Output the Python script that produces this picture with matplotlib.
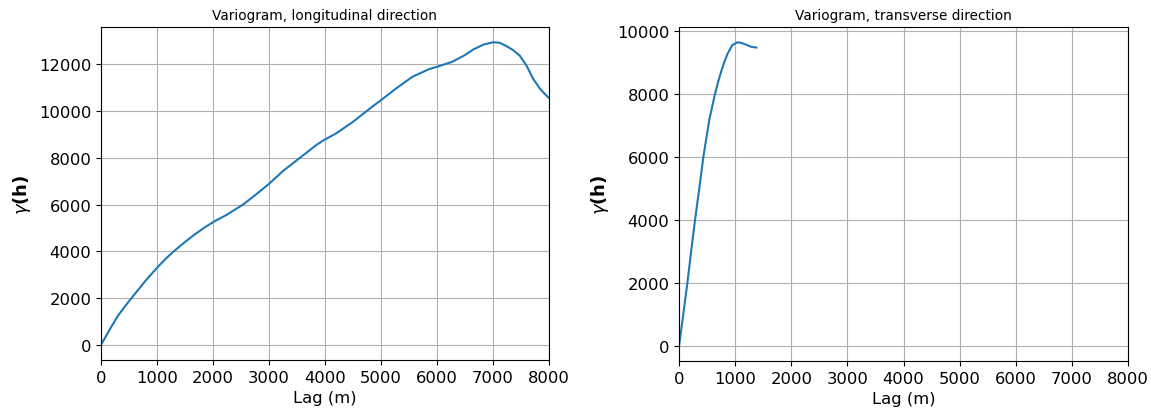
import matplotlib
matplotlib.use("Agg")
import matplotlib.pyplot as plt
import numpy as np

# longitudinal variogram
lag_long = [0, 150, 300, 450, 600, 800, 1000, 1150, 1300, 1500, 1670, 1850, 2020,
            2240, 2540, 2770, 3000, 3260, 3550, 3850, 4000, 4200, 4500, 4800,
            5000, 5270, 5560, 5860, 6000, 6270, 6350, 6500, 6650, 6830, 7000,
            7120, 7240, 7360, 7480, 7600, 7720, 7840, 7920, 8000]
gam_long = [0, 640, 1240, 1720, 2170, 2760, 3300, 3675, 4005, 4405, 4720, 5025,
            5280, 5560, 6010, 6440, 6890, 7460, 8000, 8560, 8790, 9050, 9545,
            10110, 10470, 10970, 11470, 11800, 11900, 12110, 12210, 12400, 12640,
            12850, 12950, 12930, 12790, 12620, 12380, 11960, 11390, 10970,
            10760, 10570]

# transverse variogram
lag_tran = [0, 75, 148, 215, 284, 360, 432, 538, 639, 700, 757, 810, 864, 947,
            1041, 1100, 1172, 1290, 1379]
gam_tran = [0, 1000, 2000, 3000, 4000, 5000, 6000, 7180, 8000, 8420, 8760, 9040,
            9290, 9560, 9650, 9635, 9590, 9505, 9484]

fig = plt.figure(figsize=(11.51, 4.14), dpi=100)
ax1 = fig.add_axes([0.0878, 0.128, 0.389, 0.804])
ax2 = fig.add_axes([0.590, 0.126, 0.390, 0.806])

for ax, x, y, title in [(ax1, lag_long, gam_long, 'Variogram, longitudinal direction'),
                        (ax2, lag_tran, gam_tran, 'Variogram, transverse direction')]:
    ax.plot(x, y, '-', color='#1f77b4', lw=1.5)
    ax.set_xlim(0, 8000)
    ax.set_xticks(np.arange(0, 8001, 1000))
    ax.grid(True, color='#b0b0b0', lw=0.8)
    ax.set_title(title, fontsize=9.8)
    ax.set_xlabel('Lag (m)', fontsize=11.8)
    ax.set_ylabel(r'$\gamma$(h)', fontsize=13, fontweight='bold')
    ax.tick_params(labelsize=11.8)

fig.savefig('out.png', dpi=100)
